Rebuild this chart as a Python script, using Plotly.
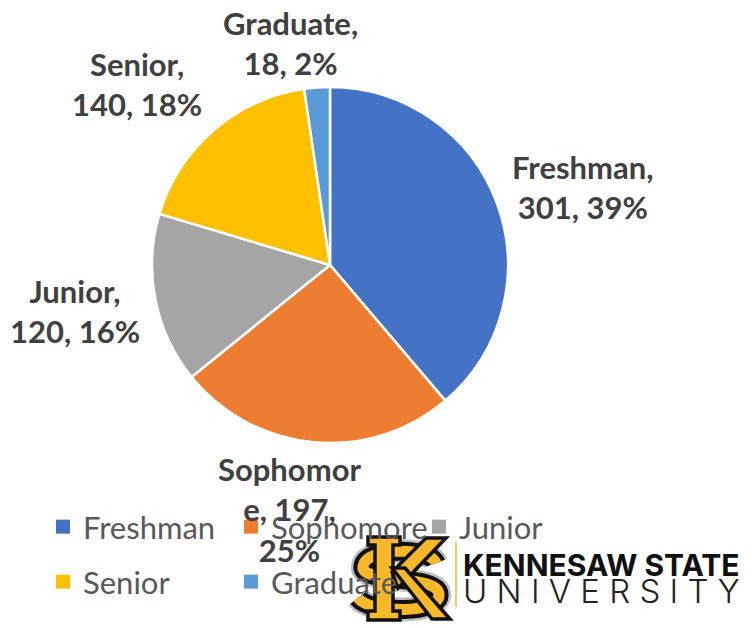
import math
import plotly.graph_objects as go

categories = ["Freshman", "Sophomore", "Junior", "Senior", "Graduate"]
counts = [301, 197, 120, 140, 18]
percent_labels = ["39%", "25%", "16%", "18%", "2%"]
label_names = ["Freshman,", "Sophomor<br>e,", "Junior,", "Senior,", "Graduate,"]
colors = ["#4472C4", "#ED7D31", "#A5A5A5", "#FFC000", "#5B9BD5"]

# the page body has an 8px margin; work in screen pixels and convert
OFF = 8
FW, FH = 754 - OFF, 628 - OFF


def X(px):
    return (px - OFF) / FW


def Y(py):
    return 1 - (py - OFF) / FH


def path(cmds):
    out = []
    for c in cmds:
        if isinstance(c, str):
            out.append(c)
        else:
            out.append(f"{X(c[0]):.5f},{Y(c[1]):.5f}")
    return " ".join(out)


cx, cy, R = 330, 265, 178

fig = go.Figure()
fig.add_trace(go.Pie(
    labels=categories, values=counts, sort=False, direction="clockwise",
    rotation=0, textinfo="none", hoverinfo="label+value+percent",
    marker=dict(colors=colors, line=dict(color="white", width=2.5)),
    domain=dict(x=[X(cx - R), X(cx + R)], y=[Y(cy + R), Y(cy - R)]),
    showlegend=False,
))

# legend entries (two rows like the original)
for i, (name, col) in enumerate(zip(categories, colors)):
    fig.add_trace(go.Scatter(
        x=[None], y=[None], mode="markers", name=name,
        marker=dict(symbol="square", size=14, color=col),
        legend="legend" if i < 3 else "legend2", hoverinfo="skip",
    ))

# data labels placed around the pie along each slice's mid-angle
total = sum(counts)
label_radius = [265, 248, 259, 264, 226]
label_nudge_deg = [3, 4, 1, -6, -6]
ann = []
cum = 0
for i, v in enumerate(counts):
    mid = (cum + v / 2) / total * 360 + label_nudge_deg[i]
    cum += v
    px = cx + label_radius[i] * math.sin(math.radians(mid))
    py = cy - label_radius[i] * math.cos(math.radians(mid))
    if categories[i] == "Sophomore":
        txt = f"{label_names[i]} {v},<br>{percent_labels[i]}"
    else:
        txt = f"{label_names[i]}<br>{v}, {percent_labels[i]}"
    ann.append(dict(x=X(px), y=Y(py), xref="paper", yref="paper", text=txt,
                    showarrow=False, align="center", xanchor="center", yanchor="middle",
                    font=dict(family="Lato", size=31, color="#404040", weight="bold")))

# Kennesaw State wordmark
ann.append(dict(x=X(461), y=Y(565), xref="paper", yref="paper", text="KENNESAW STATE",
                showarrow=False, xanchor="left", yanchor="middle",
                font=dict(family="Inter", size=30, color="#111111", weight="bold")))
ann.append(dict(x=X(461), y=Y(591), xref="paper", yref="paper", text="U N I V E R S I T Y",
                showarrow=False, xanchor="left", yanchor="middle",
                font=dict(family="Inter", size=33, color="#222222", weight=300)))

# KS emblem drawn with shapes
GOLD, INK, SHADOW = "#F7B829", "#111111", "#BDBDBD"
s_curve = [
    "M", (436, 563), "C", (430, 547), (366, 547), (363, 566),
    "C", (360, 584), (437, 574), (439, 594),
    "C", (441, 614), (370, 614), (358, 598),
]
k_stem = ["M", (368, 537), "L", (400, 537), "L", (400, 545), "L", (393, 545), "L", (393, 611),
          "L", (400, 611), "L", (400, 620), "L", (368, 620), "L", (368, 611), "L", (375, 611),
          "L", (375, 545), "L", (368, 545), "Z"]
k_up = ["M", (392, 572), "L", (426, 538), "L", (446, 538), "L", (398, 588), "Z"]
k_down = ["M", (392, 568), "L", (405, 568), "L", (450, 619), "L", (432, 619), "Z"]

shapes = [dict(type="line", xref="paper", yref="paper", x0=X(456), x1=X(456),
               y0=Y(607), y1=Y(542), line=dict(color="#E8B93A", width=1.5))]
shapes.append(dict(type="path", xref="paper", yref="paper", path=path(s_curve),
                   line=dict(color=SHADOW, width=24)))
shapes.append(dict(type="path", xref="paper", yref="paper", path=path(s_curve),
                   line=dict(color=INK, width=19)))
shapes.append(dict(type="path", xref="paper", yref="paper", path=path(s_curve),
                   line=dict(color=GOLD, width=11)))
for p in (k_stem, k_up, k_down):
    shapes.append(dict(type="path", xref="paper", yref="paper", path=path(p),
                       fillcolor=GOLD, line=dict(color=INK, width=3.5)))

legend_common = dict(orientation="h", xanchor="left", yanchor="top", entrywidth=143,
                     font=dict(family="Lato", size=31, color="#595959"),
                     bgcolor="rgba(0,0,0,0)", traceorder="normal")

fig.update_layout(
    width=FW, height=FH, margin=dict(l=0, r=0, t=0, b=0),
    paper_bgcolor="white", plot_bgcolor="white",
    xaxis=dict(visible=False), yaxis=dict(visible=False),
    annotations=ann, shapes=shapes,
    legend=dict(x=X(43), y=Y(500), **legend_common),
    legend2=dict(x=X(43), y=Y(555), **legend_common),
)

fig.write_html("out.html")
